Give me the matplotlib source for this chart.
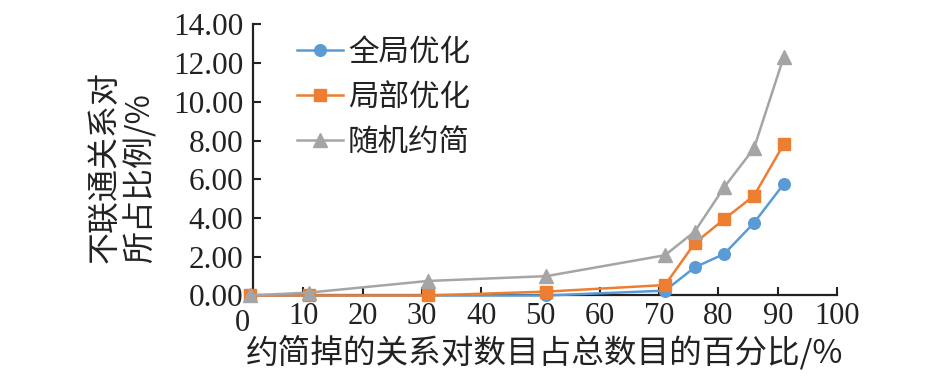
import matplotlib
matplotlib.use("Agg")
import matplotlib.pyplot as plt

# Data
x_vals = [1, 11, 31, 51, 71, 76, 81, 86, 91]
global_opt = [0.0, 0.0, 0.0, 0.0, 0.25, 1.45, 2.15, 3.75, 5.75]
local_opt = [0.0, 0.0, 0.0, 0.2, 0.54, 2.7, 3.95, 5.15, 7.8]
random_red = [0.0, 0.15, 0.75, 1.0, 2.08, 3.3, 5.6, 7.6, 12.3]
series_names = ["全局优化", "局部优化", "随机约简"]
x_ticks = [10, 20, 30, 40, 50, 60, 70, 80, 90, 100]
y_ticks = [0, 2, 4, 6, 8, 10, 12, 14]
x_label = "约简掉的关系对数目占总数目的百分比/%"
y_label = "不联通关系对\n所占比例/%"

CJK = ["Noto Sans CJK SC", "DejaVu Sans"]
SERIF = ["Liberation Serif", "DejaVu Serif"]

fig = plt.figure(figsize=(9.45, 3.84), dpi=100)
ax = fig.add_axes([0.2677, 0.2305, 0.618, 0.706])

colors = ["#5B9BD5", "#ED7D31", "#A5A5A5"]
markers = ["o", "s", "^"]
msizes = [8.4, 8.2, 9.5]
for i, ys in enumerate([global_opt, local_opt, random_red]):
    ax.plot(x_vals, ys, color=colors[i], marker=markers[i], markersize=msizes[i],
            linewidth=1.8, label=series_names[i], clip_on=False, zorder=3 + i)

ax.set_xlim(1.5, 100)
ax.set_ylim(0, 14)
ax.set_xticks(x_ticks)
ax.set_xticklabels([str(t) for t in x_ticks], fontfamily=SERIF, fontsize=22)
ax.set_yticks(y_ticks)
ax.set_yticklabels([f"{t:.2f}" for t in y_ticks], fontfamily=SERIF, fontsize=22.5)
ax.tick_params(axis="both", direction="in", length=6, width=1.5, colors="#222222",
               labelcolor="#222222")
ax.tick_params(axis="y", pad=7)
ax.tick_params(axis="x", pad=5)
ax.text(-0.3, -0.05, "0", transform=ax.get_xaxis_transform(), ha="center", va="top",
        fontfamily=SERIF, fontsize=22, color="#222222")

for s in ["top", "right"]:
    ax.spines[s].set_visible(False)
for s in ["left", "bottom"]:
    ax.spines[s].set_linewidth(1.6)
    ax.spines[s].set_color("#222222")

ax.set_xlabel(x_label, fontfamily=CJK, fontsize=23.5, color="#222222", labelpad=3)
fig.text(0.1296, 0.566, y_label, rotation=90, ha="center", va="center",
         fontfamily=CJK, fontsize=23, color="#222222", linespacing=1.12,
         multialignment="left")

leg = ax.legend(loc="upper left", bbox_to_anchor=(0.055, 1.0), frameon=False,
                prop={"family": CJK, "size": 22}, handlelength=1.5,
                handletextpad=0.15, labelspacing=0.46, borderaxespad=0)
for t in leg.get_texts():
    t.set_color("#222222")

fig.savefig("out.png", dpi=100)
